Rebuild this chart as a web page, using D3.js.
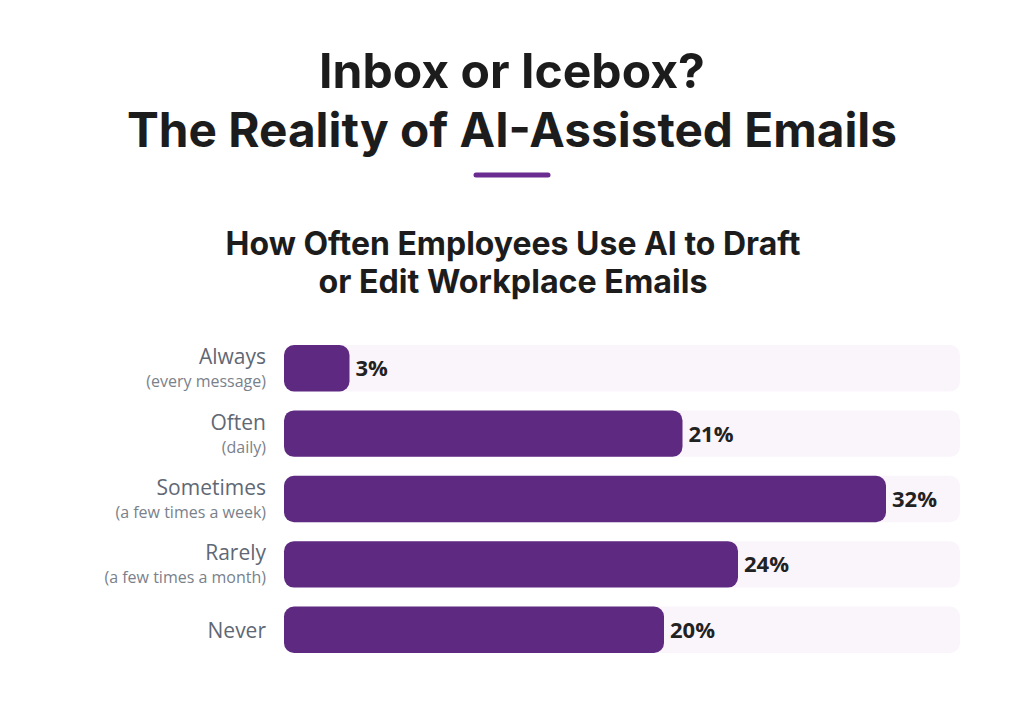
<!DOCTYPE html>
<html lang="en">
<head>
    <meta charset="UTF-8">
    <script src="https://d3js.org/d3.v7.min.js" charset="utf-8"></script>
    <title>Inbox or Icebox?</title>
    <style>
        body { margin: 0; background: #ffffff; }
        svg { display: block; }
    </style>
</head>
<body>
    <div class="chart"></div>

    <script>
        const width = 1024;
        const height = 714;

        // survey answers, top to bottom
        const categories = ["Always", "Often", "Sometimes", "Rarely", "Never"];
        const subLabels = ["(every message)", "(daily)", "(a few times a week)", "(a few times a month)", ""];
        const shares = [3, 21, 32, 24, 20];

        const titleLines = ["Inbox or Icebox?", "The Reality of AI-Assisted Emails"];
        const subtitleLines = ["How Often Employees Use AI to Draft", "or Edit Workplace Emails"];

        const purple = "#5e2980";
        const trackColor = "#faf5fb";

        const svg = d3.select(".chart").append("svg")
            .attr("width", width)
            .attr("height", height);

        // fit a text line to a target width by adjusting its font size
        const fitText = (sel, target) => {
            const fs = parseFloat(sel.attr("font-size"));
            const w = sel.node().getComputedTextLength();
            sel.attr("font-size", (fs * target / w).toFixed(2));
        };

        // Title
        const titleY = [88, 147];
        const titleW = [386, 770];
        titleLines.forEach((t, i) => {
            const txt = svg.append("text")
                .attr("x", width / 2)
                .attr("y", titleY[i])
                .attr("text-anchor", "middle")
                .attr("font-family", "Inter, 'Noto Sans', sans-serif")
                .attr("font-weight", 700)
                .attr("font-size", 40)
                .attr("fill", "#1c1c1c")
                .text(t);
            fitText(txt, titleW[i]);
        });

        // purple divider
        svg.append("line")
            .attr("x1", 476).attr("x2", 548)
            .attr("y1", 175).attr("y2", 175)
            .attr("stroke", "#6a2c91")
            .attr("stroke-width", 5)
            .attr("stroke-linecap", "round");

        // Subtitle
        const subY = [255, 293];
        const subW = [575, 389];
        subtitleLines.forEach((t, i) => {
            const txt = svg.append("text")
                .attr("x", width / 2 + 1)
                .attr("y", subY[i])
                .attr("text-anchor", "middle")
                .attr("font-family", "Inter, 'Noto Sans', sans-serif")
                .attr("font-weight", 700)
                .attr("font-size", 26)
                .attr("fill", "#1c1c1c")
                .text(t);
            fitText(txt, subW[i]);
        });

        // Scales
        const x0 = 284;
        const xScale = d3.scaleLinear()
            .domain([0, 36])
            .range([294, 960]);

        const yScale = d3.scaleBand()
            .domain(categories)
            .range([345, 653])
            .paddingInner(0.29)
            .paddingOuter(0);

        const rows = svg.selectAll("g.row")
            .data(categories.map((c, i) => ({ cat: c, sub: subLabels[i], value: shares[i] })))
            .enter()
            .append("g")
            .attr("class", "row")
            .attr("transform", d => `translate(0,${yScale(d.cat)})`);

        const bh = yScale.bandwidth();

        // background track
        rows.append("rect")
            .attr("x", x0)
            .attr("width", xScale(36) - x0)
            .attr("height", bh)
            .attr("rx", 10)
            .attr("fill", trackColor);

        // value bar
        rows.append("rect")
            .attr("x", x0)
            .attr("width", d => xScale(d.value) - x0)
            .attr("height", bh)
            .attr("rx", 10)
            .attr("fill", purple);

        // value label
        rows.append("text")
            .attr("x", d => xScale(d.value) + 6)
            .attr("y", bh / 2 + 8)
            .attr("font-family", "'Open Sans', sans-serif")
            .attr("font-weight", 700)
            .attr("font-size", 22)
            .attr("fill", "#222222")
            .text(d => d.value + "%");

        // category labels
        rows.append("text")
            .attr("x", 266)
            .attr("y", d => d.sub ? bh / 2 - 4 : bh / 2 + 8)
            .attr("text-anchor", "end")
            .attr("font-family", "'Open Sans', sans-serif")
            .attr("font-size", 21)
            .attr("fill", "#5f6874")
            .text(d => d.cat);

        rows.filter(d => d.sub).append("text")
            .attr("x", 266)
            .attr("y", bh / 2 + 19)
            .attr("text-anchor", "end")
            .attr("font-family", "'Open Sans', sans-serif")
            .attr("font-size", 16)
            .attr("fill", "#7a818b")
            .text(d => d.sub);
    </script>
</body>
</html>
